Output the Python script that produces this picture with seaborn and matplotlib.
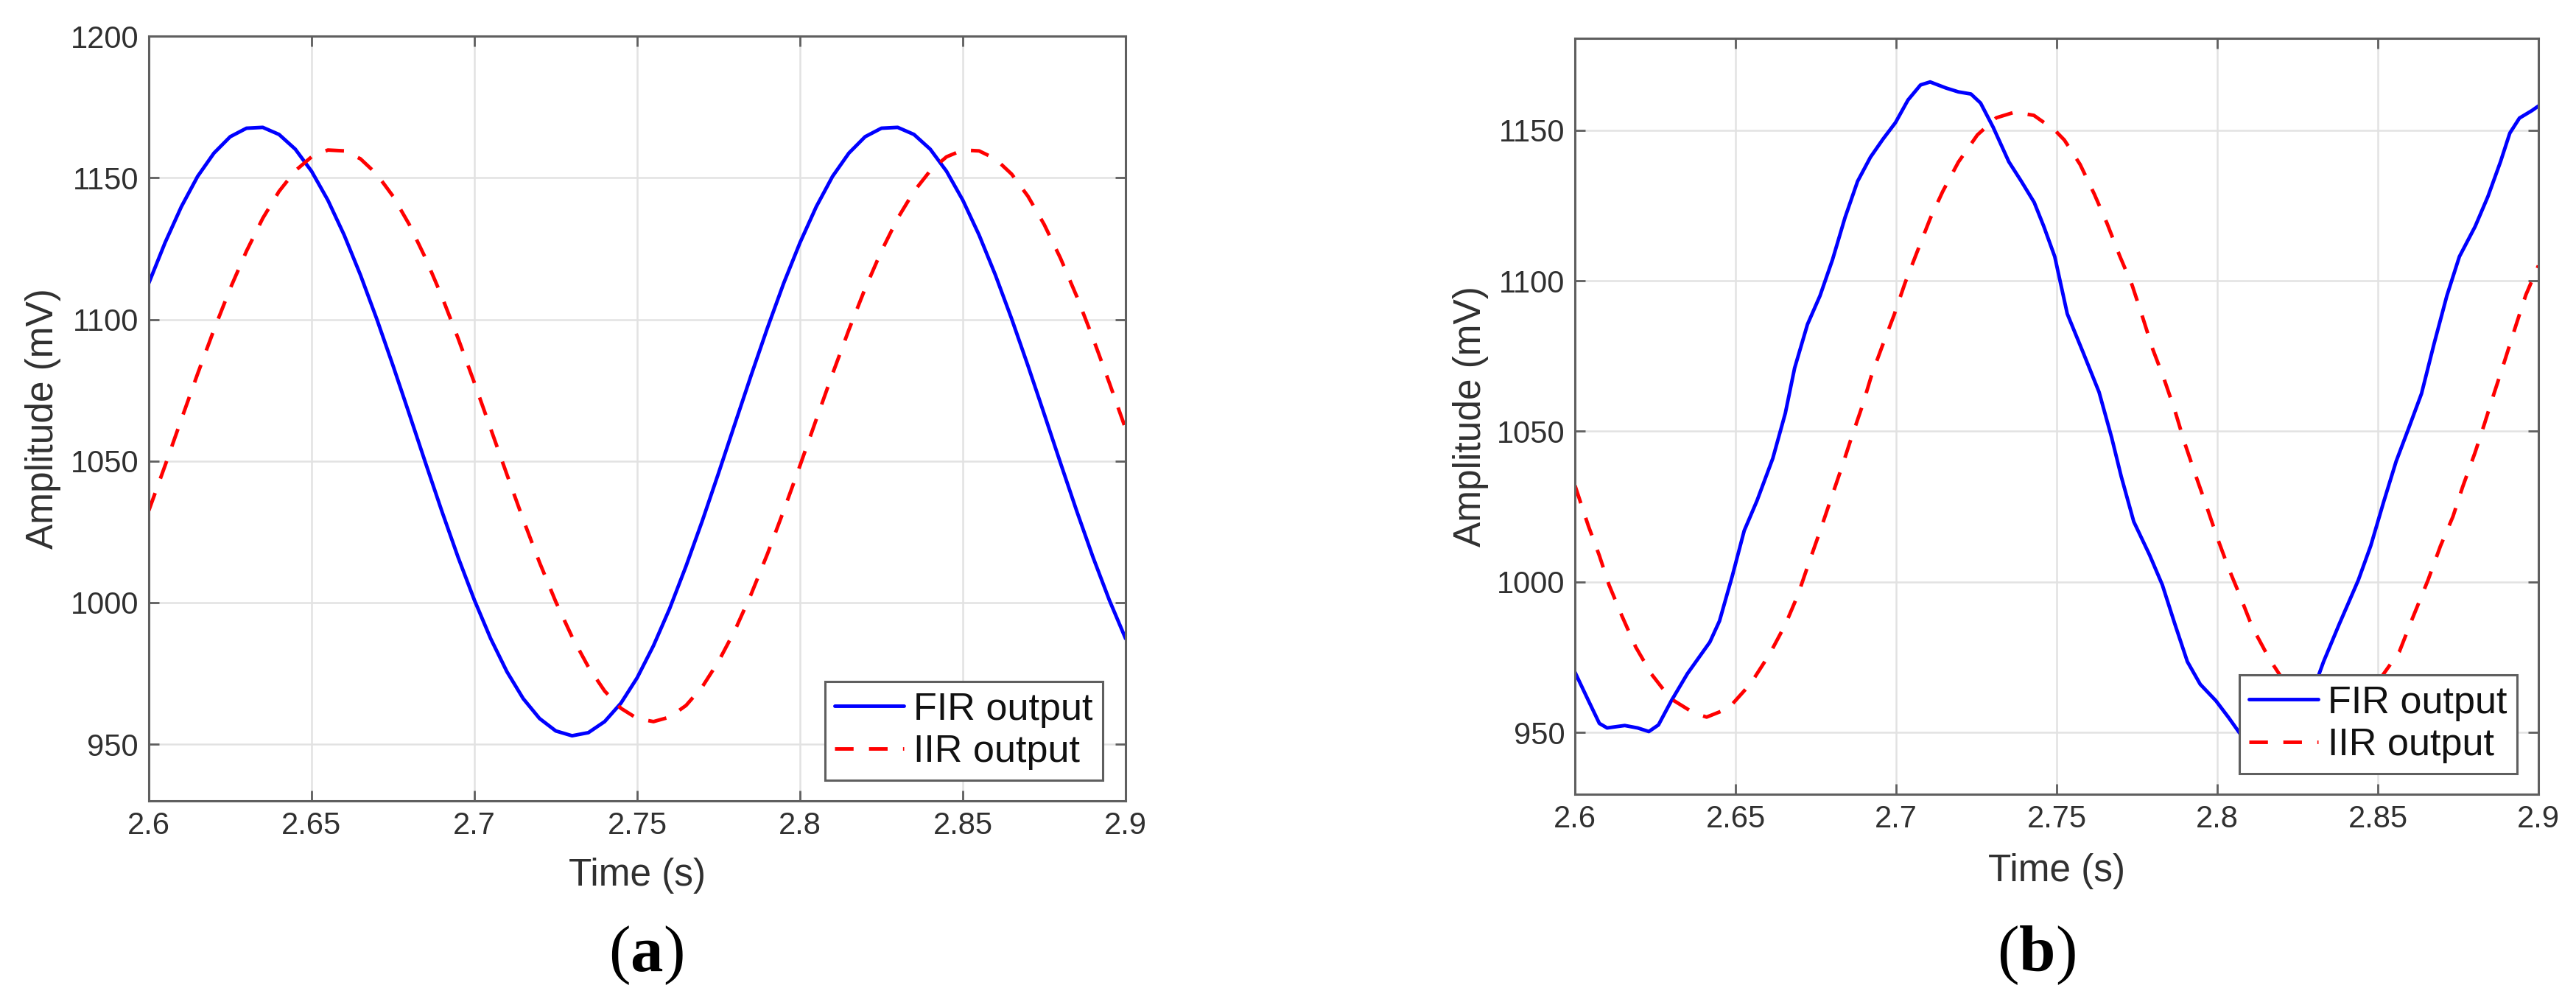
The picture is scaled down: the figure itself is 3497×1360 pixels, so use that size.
import numpy as np
import pandas as pd
import seaborn as sns
import matplotlib.pyplot as plt

# (a) filter outputs, sampled every 5 ms
t_a = [2.600, 2.605, 2.610, 2.615, 2.620, 2.625, 2.630, 2.635, 2.640, 2.645,
       2.650, 2.655, 2.660, 2.665, 2.670, 2.675, 2.680, 2.685, 2.690, 2.695,
       2.700, 2.705, 2.710, 2.715, 2.720, 2.725, 2.730, 2.735, 2.740, 2.745,
       2.750, 2.755, 2.760, 2.765, 2.770, 2.775, 2.780, 2.785, 2.790, 2.795,
       2.800, 2.805, 2.810, 2.815, 2.820, 2.825, 2.830, 2.835, 2.840, 2.845,
       2.850, 2.855, 2.860, 2.865, 2.870, 2.875, 2.880, 2.885, 2.890, 2.895,
       2.900]
fir_a = [1112.8, 1127.1, 1139.8, 1150.5, 1158.7, 1164.5, 1167.5, 1167.8, 1165.3, 1160.1,
         1152.3, 1142.1, 1129.8, 1115.7, 1100.2, 1083.7, 1066.6, 1049.3, 1032.3, 1016.0,
         1000.9, 987.3, 975.6, 966.1, 959.1, 954.7, 953.0, 954.1, 958.0, 964.5,
         973.5, 984.8, 998.0, 1012.9, 1028.9, 1045.8, 1063.1, 1080.3, 1097.0, 1112.8,
         1127.1, 1139.8, 1150.5, 1158.7, 1164.5, 1167.5, 1167.8, 1165.3, 1160.1, 1152.3,
         1142.1, 1129.8, 1115.7, 1100.2, 1083.7, 1066.6, 1049.3, 1032.3, 1016.0, 1000.9,
         987.3]
iir_a = [1032.5, 1048.4, 1064.7, 1080.8, 1096.3, 1110.9, 1124.1, 1135.7, 1145.2, 1152.5,
         1157.4, 1159.8, 1159.5, 1156.7, 1151.3, 1143.5, 1133.5, 1121.6, 1108.1, 1093.3,
         1077.6, 1061.4, 1045.2, 1029.3, 1014.2, 1000.3, 987.9, 977.3, 968.8, 962.7,
         959.1, 958.0, 959.6, 963.7, 970.3, 979.3, 990.2, 1003.0, 1017.2, 1032.5,
         1048.4, 1064.7, 1080.8, 1096.3, 1110.9, 1124.1, 1135.7, 1145.2, 1152.5, 1157.4,
         1159.8, 1159.5, 1156.7, 1151.3, 1143.5, 1133.5, 1121.6, 1108.1, 1093.3, 1077.6,
         1061.4]

# (b) at irregular times
t_fir_b = [2.600, 2.604, 2.6076, 2.610, 2.6155, 2.6195, 2.623, 2.626, 2.630, 2.635,
           2.642, 2.645, 2.649, 2.6527, 2.6567, 2.6616, 2.6655, 2.6684, 2.6724, 2.6763,
           2.6802, 2.6841, 2.688, 2.692, 2.6959, 2.6998, 2.7037, 2.7076, 2.7106, 2.7155,
           2.7194, 2.7233, 2.7263, 2.7302, 2.7351, 2.739, 2.743, 2.746, 2.7494, 2.7533,
           2.7583, 2.7632, 2.7671, 2.7701, 2.774, 2.7789, 2.7829, 2.7868, 2.7907, 2.7947,
           2.7996, 2.8035, 2.8075, 2.812, 2.817, 2.822, 2.8275, 2.8331, 2.838, 2.8439,
           2.8478, 2.8518, 2.8557, 2.8596, 2.8636, 2.8675, 2.8715, 2.8754, 2.8803, 2.8843,
           2.8882, 2.8911, 2.8941, 2.898, 2.900]
fir_b = [970, 961, 953, 951.5, 952.3, 951.5, 950.3, 952.5, 960.5, 969.5,
         980, 987, 1002, 1017, 1027, 1041, 1056, 1071, 1085.5, 1095,
         1107, 1121, 1133, 1141, 1147, 1152.5, 1160, 1165, 1166, 1164,
         1162.7, 1162, 1159, 1151, 1139.5, 1133, 1126, 1118, 1108, 1089,
         1076, 1063, 1048, 1035, 1020, 1009, 999, 986, 973.5, 966,
         960.5, 955, 949, 945, 944, 947, 957, 973.5, 986, 1000.5,
         1012, 1026.5, 1040, 1051, 1062.5, 1079, 1095, 1108, 1118, 1128,
         1139.5, 1149, 1154, 1156.5, 1158]
t_iir_b = [2.600, 2.6042, 2.6076, 2.6106, 2.6145, 2.6189, 2.6238, 2.6297, 2.6371, 2.641,
           2.6478, 2.6547, 2.6606, 2.6655, 2.6694, 2.6728, 2.6763, 2.6797, 2.6831, 2.6861,
           2.6895, 2.6925, 2.6959, 2.6994, 2.7028, 2.7067, 2.7106, 2.7145, 2.7194, 2.7253,
           2.7312, 2.737, 2.7429, 2.7494, 2.7524, 2.7573, 2.7617, 2.7657, 2.7696, 2.7735,
           2.777, 2.7799, 2.7834, 2.7868, 2.7898, 2.7932, 2.7967, 2.8001, 2.8035, 2.807,
           2.8109, 2.8163, 2.822, 2.828, 2.834, 2.840, 2.846, 2.8515, 2.8567, 2.8606,
           2.8656, 2.8695, 2.8734, 2.8764, 2.8803, 2.8833, 2.8862, 2.8892, 2.8931, 2.8961,
           2.900]
iir_b = [1032, 1018.5, 1008.7, 999, 989, 978.4, 969.4, 961.3, 956.4, 955.1,
         958, 966.2, 976, 985.8, 995.6, 1006.2, 1016.8, 1027.5, 1038.1, 1047.9,
         1058.5, 1069.1, 1078.9, 1088.7, 1099.3, 1110, 1120.6, 1129.6, 1139.4, 1148.4,
         1154.1, 1156, 1154.9, 1150, 1146.7, 1138.6, 1128.8, 1119, 1108.3, 1098.5,
         1087.1, 1077.3, 1067.5, 1056.9, 1046.3, 1035.6, 1025, 1014.4, 1004.6, 995.6,
         985, 974.3, 965, 959, 957, 958.5, 963, 969, 976.8, 987.4,
         1000.5, 1011.9, 1021.7, 1031.5, 1043, 1052.8, 1062.6, 1072.4, 1085.5, 1095.3,
         1105]

xticks = [2.6, 2.65, 2.7, 2.75, 2.8, 2.85, 2.9]
xticklabels = ['2.6', '2.65', '2.7', '2.75', '2.8', '2.85', '2.9']
yticks_a = [950, 1000, 1050, 1100, 1150, 1200]
yticks_b = [950, 1000, 1050, 1100, 1150]

sns.set_theme(style="whitegrid")
plt.rcParams['font.family'] = ['Liberation Sans', 'DejaVu Sans']
plt.rcParams['mathtext.fontset'] = 'custom'
plt.rcParams['mathtext.rm'] = 'Liberation Serif'
plt.rcParams['mathtext.bf'] = 'Liberation Serif:bold'

AXIS_GREY = '#5f5f5f'
TEXT_GREY = '#303030'


def draw_panel(ax, t_fir, v_fir, t_iir, v_iir, ylim, yticks, legend_anchor,
               xlabel_y, ylabel_x):
    sns.lineplot(x=t_fir, y=v_fir, ax=ax, color='#0000ff', linewidth=3.5,
                 estimator=None, sort=False, label='FIR output')
    sns.lineplot(x=t_iir, y=v_iir, ax=ax, color='#ff0000', linewidth=3.5,
                 linestyle=(0, (5.2, 4.3)), estimator=None, sort=False, label='IIR output')
    ax.set_xlim(2.6, 2.9)
    ax.set_ylim(*ylim)
    ax.set_xticks(xticks)
    ax.set_xticklabels(xticklabels)
    ax.set_yticks(yticks)
    ax.set_yticklabels([str(v) for v in yticks])
    ax.grid(True, color='#e2e2e2', linewidth=1.8)
    ax.set_axisbelow(True)
    for sp in ax.spines.values():
        sp.set_color(AXIS_GREY)
        sp.set_linewidth(2.2)
    ax.tick_params(direction='in', length=10, width=2, color=AXIS_GREY,
                   labelsize=30, labelcolor=TEXT_GREY, pad=10,
                   top=True, right=True, bottom=True, left=True)
    ax.set_xlabel('Time (s)', fontsize=37, color=TEXT_GREY)
    ax.set_ylabel('Amplitude (mV)', fontsize=37, color=TEXT_GREY)
    ax.xaxis.set_label_coords(0.5, xlabel_y)
    ax.yaxis.set_label_coords(ylabel_x, 0.5)
    leg = ax.legend(loc='lower right', bbox_to_anchor=legend_anchor, borderaxespad=0,
                    fontsize=37.5, frameon=True, fancybox=False, framealpha=1,
                    edgecolor=AXIS_GREY, handlelength=1.8, handletextpad=0.25,
                    labelspacing=0.17, borderpad=0.26)
    leg.get_frame().set_linewidth(2.2)
    for txt in leg.get_texts():
        txt.set_color('#111111')


fig = plt.figure(figsize=(34.97, 13.6), dpi=100)
ax_a = fig.add_axes([0.05776, 0.2007, 0.3792, 0.7632])
ax_b = fig.add_axes([0.6114, 0.2074, 0.3740, 0.7544])

draw_panel(ax_a, t_a, fir_a, t_a, iir_a, (930, 1200), yticks_a,
           (0.9766, 0.027), -0.074, -0.0897)
draw_panel(ax_b, t_fir_b, fir_b, t_iir_b, iir_b, (929.5, 1180.5), yticks_b,
           (0.9778, 0.0273), -0.078, -0.0894)

# panel captions
fig.text(877 / 3497, 1 - 1318 / 1360, r'($\mathbf{a}$)', ha='center', va='baseline',
         fontsize=64, family='Liberation Serif', color='black')
fig.text(2764 / 3497, 1 - 1318 / 1360, r'($\mathbf{b}$)', ha='center', va='baseline',
         fontsize=64, family='Liberation Serif', color='black')

fig.savefig('out.png', dpi=100, facecolor='white')
